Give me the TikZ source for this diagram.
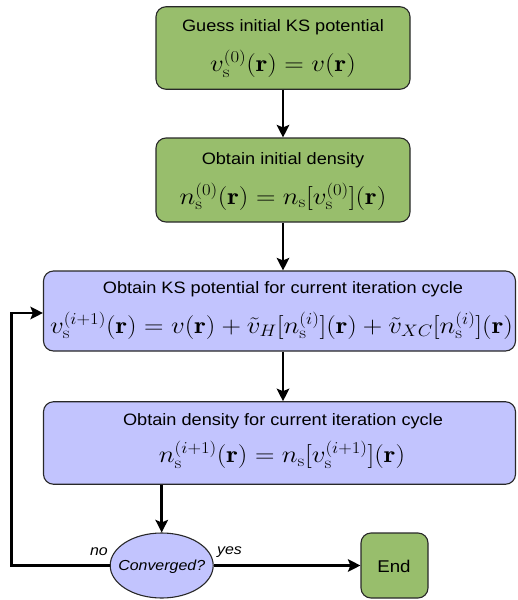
\documentclass[tikz,border=0pt]{standalone}
\usepackage{fontspec}
\setsansfont{Liberation Sans}
\usepackage{graphicx}
\usetikzlibrary{arrows.meta,shapes.geometric}
\DeclareMathSizes{24.88}{24.88}{17.28}{14.4}
\definecolor{boxgreen}{RGB}{152,190,108}
\definecolor{boxblue}{RGB}{194,196,254}
\definecolor{edgegray}{RGB}{40,40,40}
\newcommand{\sx}[1]{\scalebox{1.1}[1]{#1}}
\newcommand{\sxm}[1]{\scalebox{1.085}[0.96]{#1}}
\begin{document}
\begin{tikzpicture}[x=1pt,y=-1pt,
  box/.style={draw=edgegray, line width=1.1pt, rounded corners=10pt, inner sep=0pt},
  gbox/.style={box, fill=boxgreen},
  bbox/.style={box, fill=boxblue},
  ttl/.style={font=\sffamily\fontsize{16.5}{19}\selectfont, inner sep=0pt, anchor=base},
  eqn/.style={font=\Huge, inner sep=0pt, anchor=base},
  lab/.style={font=\sffamily\itshape\fontsize{14.5}{17}\selectfont, inner sep=0pt},
  arr/.style={line width=2.6pt, -{Stealth[length=12.5pt,width=12.5pt,inset=2.5pt]}}]
\useasboundingbox (0,0) rectangle (517,600);

% boxes
\node[gbox, minimum width=254pt, minimum height=82.5pt] (b1) at (283,48) {};
\node[gbox, minimum width=254pt, minimum height=84pt] (b2) at (283,180) {};
\node[bbox, minimum width=472pt, minimum height=80pt] (b3) at (279.5,311) {};
\node[bbox, minimum width=472pt, minimum height=82.5pt] (b4) at (279.5,443) {};
\node[ellipse, draw=edgegray, line width=1.1pt, fill=boxblue, minimum width=103pt, minimum height=65pt, inner sep=0pt] (conv) at (161.7,565.5) {};
\node[gbox, minimum width=67pt, minimum height=65pt] (end) at (394.5,565.5) {};

% texts
\node[ttl] (t1) at (283,31.7) {\sx{Guess initial KS potential}};
\node[eqn] (f1) at (283,71.5) {\sxm{$v_{\mathrm{s}}^{(0)}(\mathbf{r}) = v(\mathbf{r})$}};
\node[ttl] (t2) at (283,164.5) {\sx{Obtain initial density}};
\node[eqn] (f2) at (283,204) {\sxm{$n_{\mathrm{s}}^{(0)}(\mathbf{r}) = n_{\mathrm{s}}[v_{\mathrm{s}}^{(0)}](\mathbf{r})$}};
\node[ttl] (t3) at (283,293) {\sx{Obtain KS potential for current iteration cycle}};
\node[eqn] (f3) at (281.5,333) {\sxm{$v_{\mathrm{s}}^{(i+1)}(\mathbf{r}) = v(\mathbf{r}) + \tilde{v}_{H}[n_{\mathrm{s}}^{(i)}](\mathbf{r}) + \tilde{v}_{XC}[n_{\mathrm{s}}^{(i)}](\mathbf{r})$}};
\node[ttl] (t4) at (283,425.5) {\sx{Obtain density for current iteration cycle}};
\node[eqn] (f4) at (282,462.5) {\sxm{$n_{\mathrm{s}}^{(i+1)}(\mathbf{r}) = n_{\mathrm{s}}[v_{\mathrm{s}}^{(i+1)}](\mathbf{r})$}};
\node[lab] (tc) at (161.7,566.5) {\sx{Converged?}};
\node[font=\sffamily\fontsize{17}{20}\selectfont, inner sep=0pt] (te) at (394,566.5) {\sx{End}};
\node[lab] (no) at (99,551.7) {\sx{no}};
\node[lab] (yes) at (229.5,551.7) {\sx{yes}};

% connectors
\coordinate (lp) at (11.7,565.5);
\draw[arr] (b1.south) -- (b2.north);
\draw[arr] (b2.south) -- (b2.south |- b3.north);
\draw[arr] (b2.south |- b3.south) -- (b2.south |- b4.north);
\draw[arr] (conv.north |- b4.south) -- (conv.north);
\draw[arr] (conv.east) -- (end.west);
\draw[arr] (conv.west) -- (lp) |- ([yshift=-2pt]b3.west);
\end{tikzpicture}
\end{document}
